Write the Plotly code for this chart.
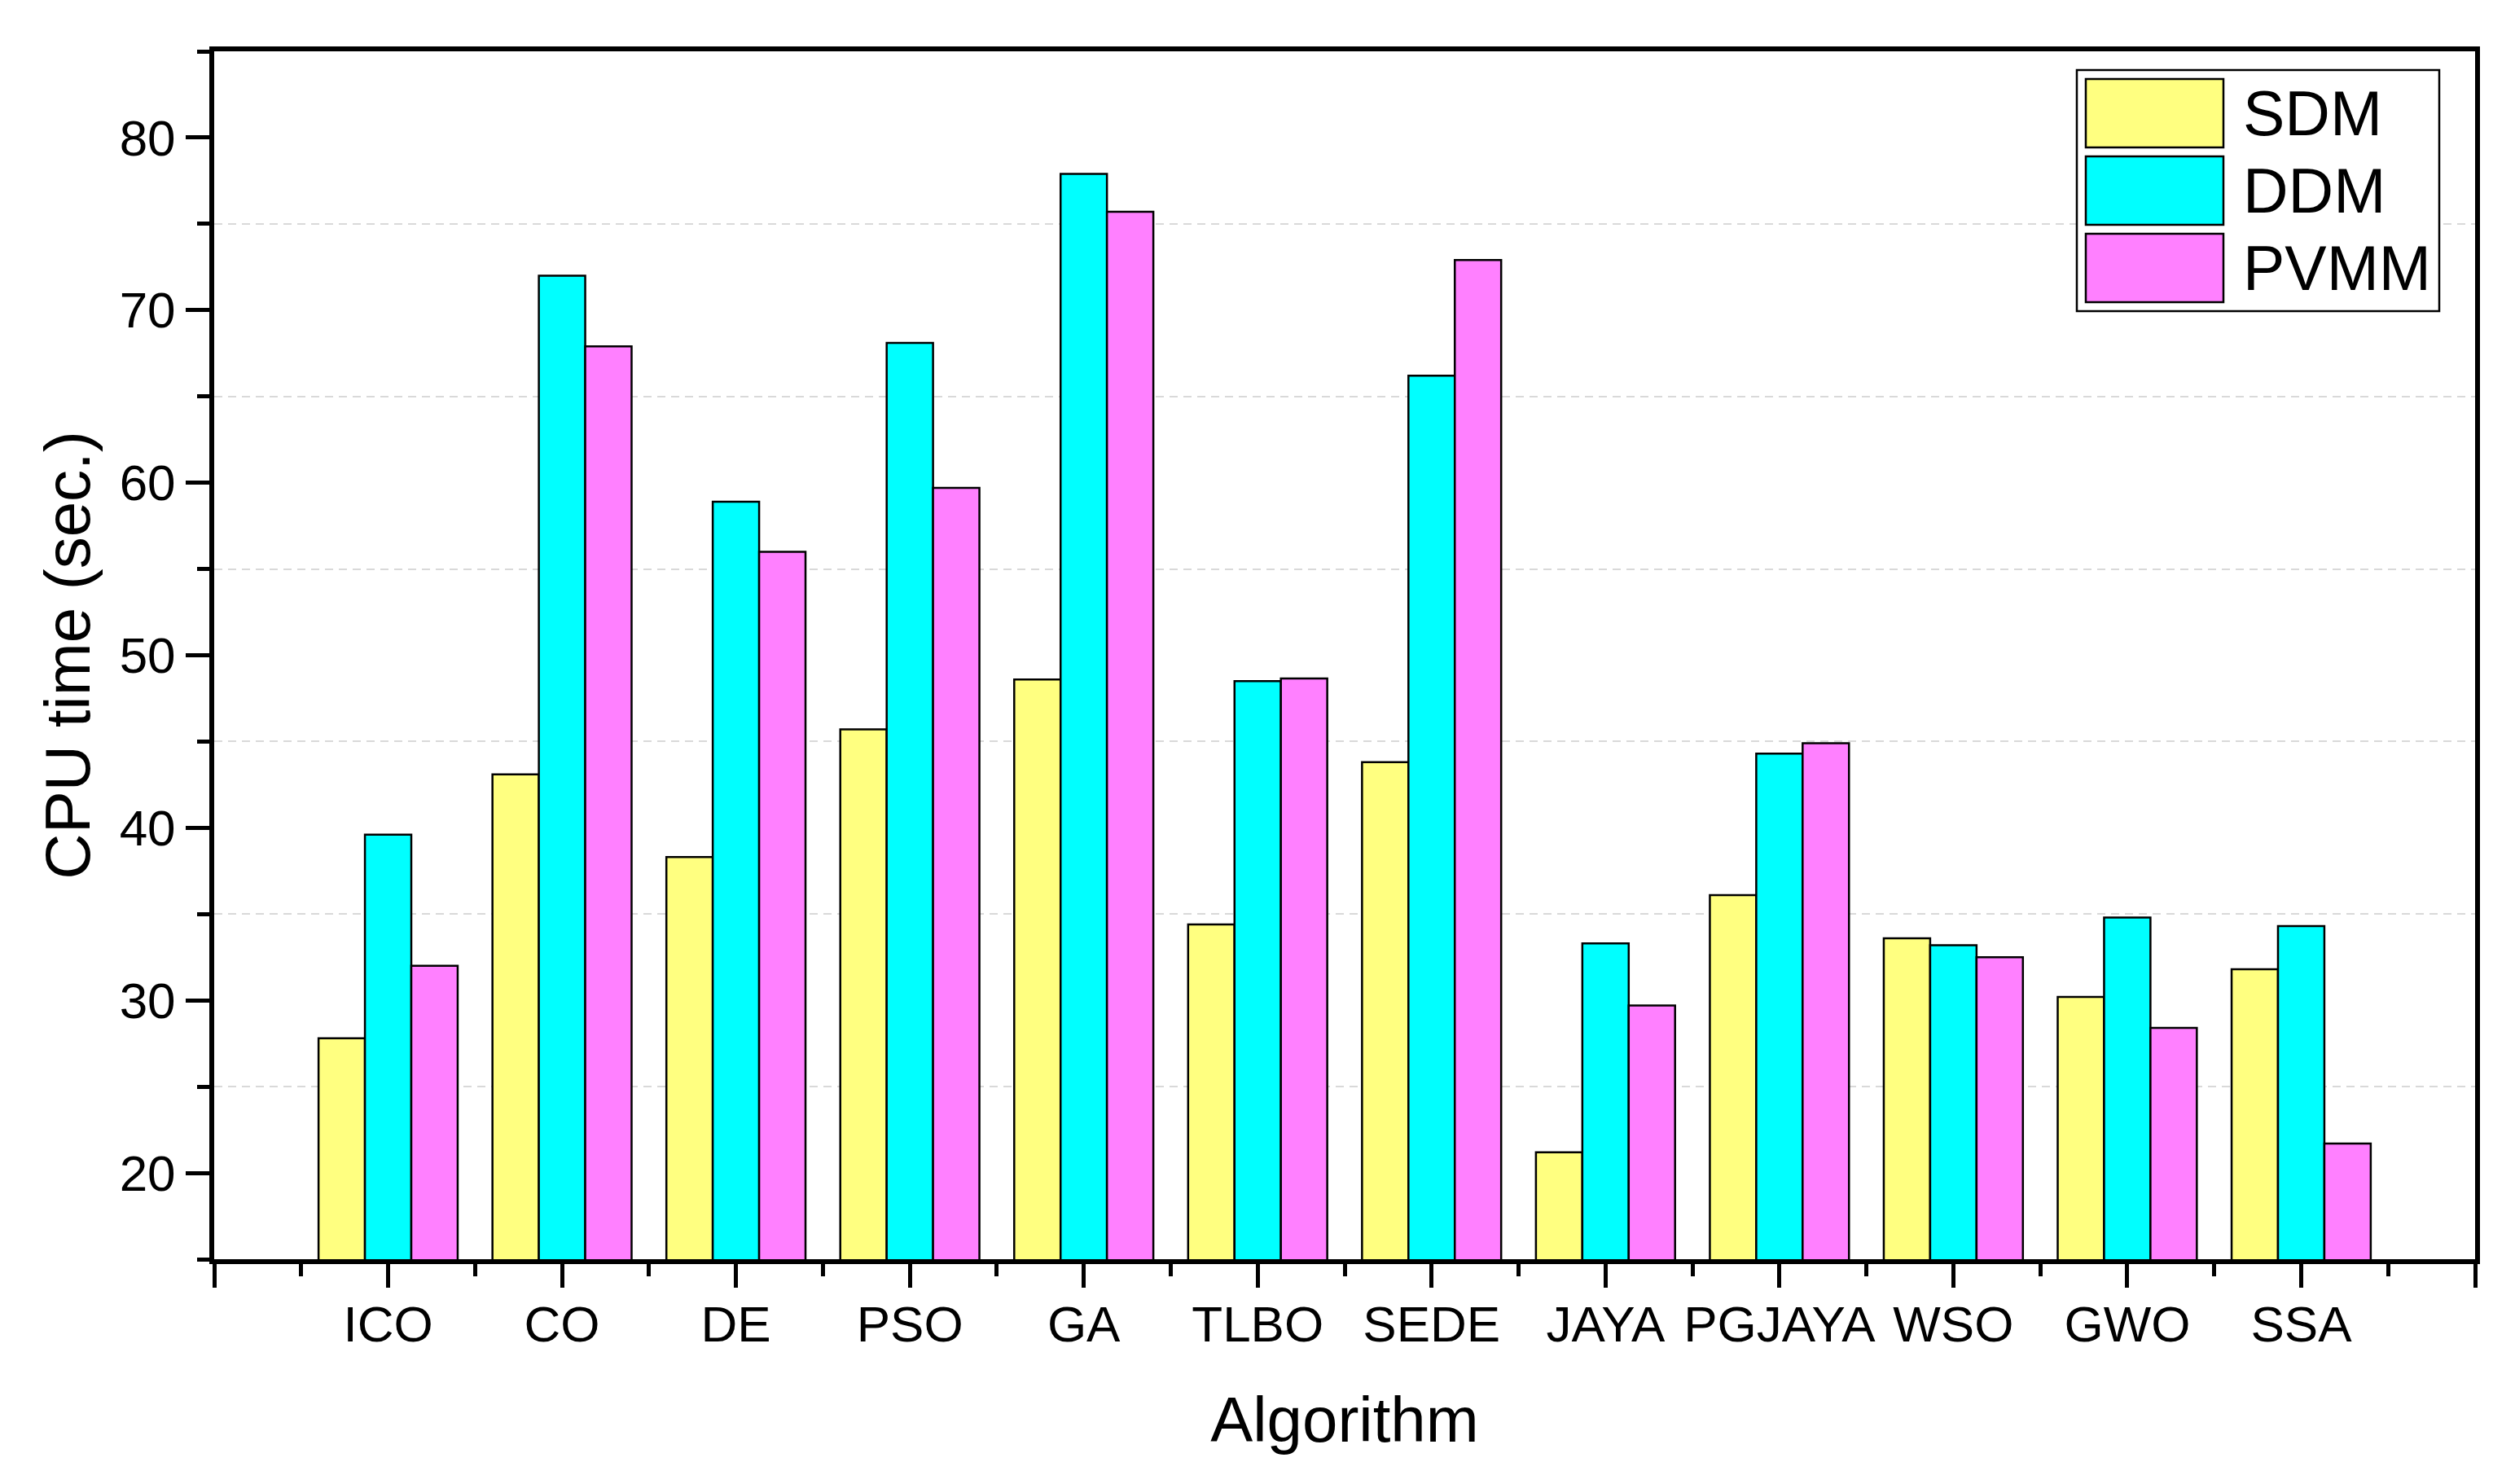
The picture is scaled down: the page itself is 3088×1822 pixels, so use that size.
import plotly.graph_objects as go

categories = ["ICO", "CO", "DE", "PSO", "GA", "TLBO", "SEDE", "JAYA", "PGJAYA", "WSO", "GWO", "SSA"]
series_names = ["SDM", "DDM", "PVMM"]
sdm = [27.8, 43.1, 38.3, 45.7, 48.6, 34.4, 43.8, 21.2, 36.1, 33.6, 30.2, 31.8]
ddm = [39.6, 72.0, 58.9, 68.1, 77.9, 48.5, 66.2, 33.3, 44.3, 33.2, 34.8, 34.3]
pvmm = [32.0, 67.9, 56.0, 59.7, 75.7, 48.65, 72.9, 29.7, 44.9, 32.5, 28.4, 21.7]
colors = ["#FFFF80", "#00FFFF", "#FF80FF"]
y_ticks = [20, 30, 40, 50, 60, 70, 80]

FONT = "Liberation Sans, Arial, sans-serif"
positions = [i + 1 for i in range(len(categories))]

fig = go.Figure()
for name, vals, col in zip(series_names, [sdm, ddm, pvmm], colors):
    fig.add_trace(go.Bar(
        x=positions, y=vals, name=name,
        marker=dict(color=col, line=dict(color="black", width=2.5)),
        showlegend=False,
    ))

W, H = 3088, 1822
L, R, T, B = 263, 49, 63, 276

fig.update_layout(
    width=W, height=H,
    margin=dict(l=L, r=R, t=T, b=B, pad=0),
    barmode="group", bargap=0.2, bargroupgap=0,
    plot_bgcolor="white", paper_bgcolor="white",
    font=dict(family=FONT, color="black", size=62),
)

fig.update_xaxes(
    range=[0, len(categories) + 1],
    tickmode="array",
    tickvals=[0] + positions + [len(categories) + 1],
    ticktext=[""] + categories + [""],
    ticks="outside", ticklen=29, tickwidth=5, tickcolor="black",
    ticklabelstandoff=-8,
    minor=dict(tickmode="array", tickvals=[p - 0.5 for p in positions] + [len(categories) + 0.5],
               ticks="outside", ticklen=15, tickwidth=5, tickcolor="black", showgrid=False),
    showline=True, linewidth=6, linecolor="black", mirror=True,
    showgrid=False, zeroline=False,
    tickfont=dict(size=62, family=FONT),
    title=dict(text="Algorithm", font=dict(size=78, family=FONT), standoff=58),
    automargin=False,
)

fig.update_yaxes(
    range=[15, 85],
    tickmode="array", tickvals=y_ticks,
    ticks="outside", ticklen=29, tickwidth=5, tickcolor="black",
    minor=dict(tickmode="linear", tick0=5, dtick=10,
               ticks="outside", ticklen=15, tickwidth=5, tickcolor="black",
               showgrid=True, gridcolor="#d9d9d9", gridwidth=2, griddash="10px,7px"),
    showline=True, linewidth=6, linecolor="black", mirror=True,
    showgrid=False, zeroline=False,
    tickfont=dict(size=62, family=FONT),
    title=dict(text="CPU time (sec.)", font=dict(size=78, family=FONT), standoff=12),
    automargin=False,
)

# Legend drawn as boxes (Origin-style large swatches)
pw, ph = W - L - R, H - T - B
def px_x(px):
    return (px - L) / pw
def px_y(py):
    return (H - B - py) / ph

fig.add_shape(type="rect", xref="paper", yref="paper",
              x0=px_x(2550), x1=px_x(2995), y0=px_y(382), y1=px_y(86),
              line=dict(color="black", width=2.5), fillcolor="white", layer="above")
row_tops = [97, 192, 287]
for name, col, top in zip(series_names, colors, row_tops):
    fig.add_shape(type="rect", xref="paper", yref="paper",
                  x0=px_x(2561), x1=px_x(2730), y0=px_y(top + 84), y1=px_y(top),
                  line=dict(color="black", width=2.5), fillcolor=col, layer="above")
    fig.add_annotation(xref="paper", yref="paper", x=px_x(2752), y=px_y(top + 42),
                       text=name, showarrow=False, xanchor="left", yanchor="middle",
                       font=dict(size=77, family=FONT, color="black"))

fig.write_html("out.html", config={"displayModeBar": False},
               post_script="document.body.style.margin='0';")
